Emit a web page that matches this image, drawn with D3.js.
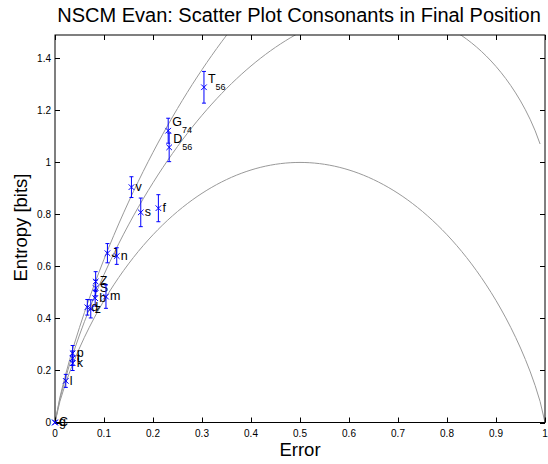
<!DOCTYPE html>
<html><head><meta charset="utf-8">
<script src="https://cdn.jsdelivr.net/npm/d3@7"></script>
<style>body{margin:0;background:#fff}svg{display:block;font-family:"Liberation Sans",Arial,sans-serif}</style>
</head><body><svg id="c" width="548" height="464"></svg>
<script>
// ---- data ----
const labels   = ["T","G","D","f","s","v","J","n","Z","S","b","m","d","z","p","t","k","l","C","g"];
const subs     = ["56","74","56","","","","","","","","","","","","","","","","",""];
const errRate  = [0.304,0.231,0.233,0.211,0.175,0.156,0.107,0.126,0.083,0.083,0.082,0.104,0.066,0.073,0.036,0.036,0.036,0.022,0.0,0.0];
const entropy  = [1.289,1.122,1.058,0.824,0.808,0.905,0.651,0.640,0.542,0.517,0.478,0.484,0.443,0.437,0.266,0.247,0.228,0.160,0.0,0.0];
const errBar   = [0.061,0.048,0.055,0.052,0.055,0.040,0.037,0.032,0.038,0.030,0.030,0.045,0.030,0.035,0.030,0.028,0.028,0.025,0.0,0.0];
const xTicks = [0,0.1,0.2,0.3,0.4,0.5,0.6,0.7,0.8,0.9,1];
const yTicks = [0,0.2,0.4,0.6,0.8,1,1.2,1.4];
const boundM = [2,3,4];   // Fano-type bound curves H(p)+p*log2(M-1)

const svg = d3.select("#c");
const L=55,R=545,T=35,B=422.5;
const x = d3.scaleLinear().domain([0,1]).range([L,R]);
const y = d3.scaleLinear().domain([0,1.49]).range([B,T]);

const H = p => (p<=0||p>=1)?0:(-p*Math.log2(p)-(1-p)*Math.log2(1-p));
svg.append("clipPath").attr("id","cp").append("rect").attr("x",L).attr("y",T).attr("width",R-L).attr("height",B-T);

const line = d3.line().x(d=>x(d[0])).y(d=>y(d[1]));
const g = svg.append("g").attr("clip-path","url(#cp)");
boundM.forEach(M=>{
  const pts=[];
  const end = M===2?100:99;
  for(let i=0;i<=end;i++){const p=i/100; pts.push([p,H(p)+p*Math.log2(M-1)]);}
  g.append("path").attr("d",line(pts)).attr("fill","none").attr("stroke","#999").attr("stroke-width",1);
});

// frame
svg.append("rect").attr("x",L).attr("y",T).attr("width",R-L).attr("height",B-T).attr("fill","none").attr("stroke","#000").attr("stroke-width",1);

// ticks
const tl=5;
xTicks.forEach(t=>{
  const px=Math.round(x(t))+0.5;
  svg.append("line").attr("x1",px).attr("x2",px).attr("y1",B).attr("y2",B-tl).attr("stroke","#000");
  svg.append("line").attr("x1",px).attr("x2",px).attr("y1",T).attr("y2",T+tl).attr("stroke","#000");
  svg.append("text").attr("x",x(t)).attr("y",B+14).attr("text-anchor","middle").attr("font-size",10).text(d3.format("")(t));
});
yTicks.forEach(t=>{
  const py=Math.round(y(t))+0.5;
  svg.append("line").attr("x1",L).attr("x2",L+tl).attr("y1",py).attr("y2",py).attr("stroke","#000");
  svg.append("line").attr("x1",R).attr("x2",R-tl).attr("y1",py).attr("y2",py).attr("stroke","#000");
  svg.append("text").attr("x",L-4).attr("y",y(t)+3.5).attr("text-anchor","end").attr("font-size",10).text(d3.format("")(t));
});

// error bars + markers
const blue="#0000ff";
const pts = labels.map((l,i)=>({l,s:subs[i],x:errRate[i],y:entropy[i],e:errBar[i]}));
pts.forEach(d=>{
  const cx=x(d.x), cy=y(d.y);
  if(d.e>0){
    svg.append("line").attr("x1",cx).attr("x2",cx).attr("y1",y(d.y-d.e)).attr("y2",y(d.y+d.e)).attr("stroke",blue);
    [d.y-d.e,d.y+d.e].forEach(v=>svg.append("line").attr("x1",cx-2).attr("x2",cx+2).attr("y1",y(v)).attr("y2",y(v)).attr("stroke",blue));
  }
  const r=2.8;
  svg.append("path").attr("d",`M${cx-r},${cy-r}L${cx+r},${cy+r}M${cx-r},${cy+r}L${cx+r},${cy-r}`).attr("stroke",blue).attr("stroke-width",1);
  const tx=cx+4;
  if(d.s){
    const t=svg.append("text").attr("x",tx).attr("y",cy-4.5).attr("font-size",12.5).text(d.l);
    t.append("tspan").attr("font-size",9).attr("dy",7).text(d.s);
  } else {
    svg.append("text").attr("x",tx).attr("y",cy+3.8).attr("font-size",12.5).text(d.l);
  }
});

// titles
svg.append("text").attr("x",299).attr("y",22).attr("text-anchor","middle").attr("font-size",20).text("NSCM Evan: Scatter Plot Consonants in Final Position");
svg.append("text").attr("x",300).attr("y",456).attr("text-anchor","middle").attr("font-size",18.5).text("Error");
svg.append("text").attr("transform","translate(27,227.5) rotate(-90)").attr("text-anchor","middle").attr("font-size",18.5).text("Entropy [bits]");
</script></body></html>
